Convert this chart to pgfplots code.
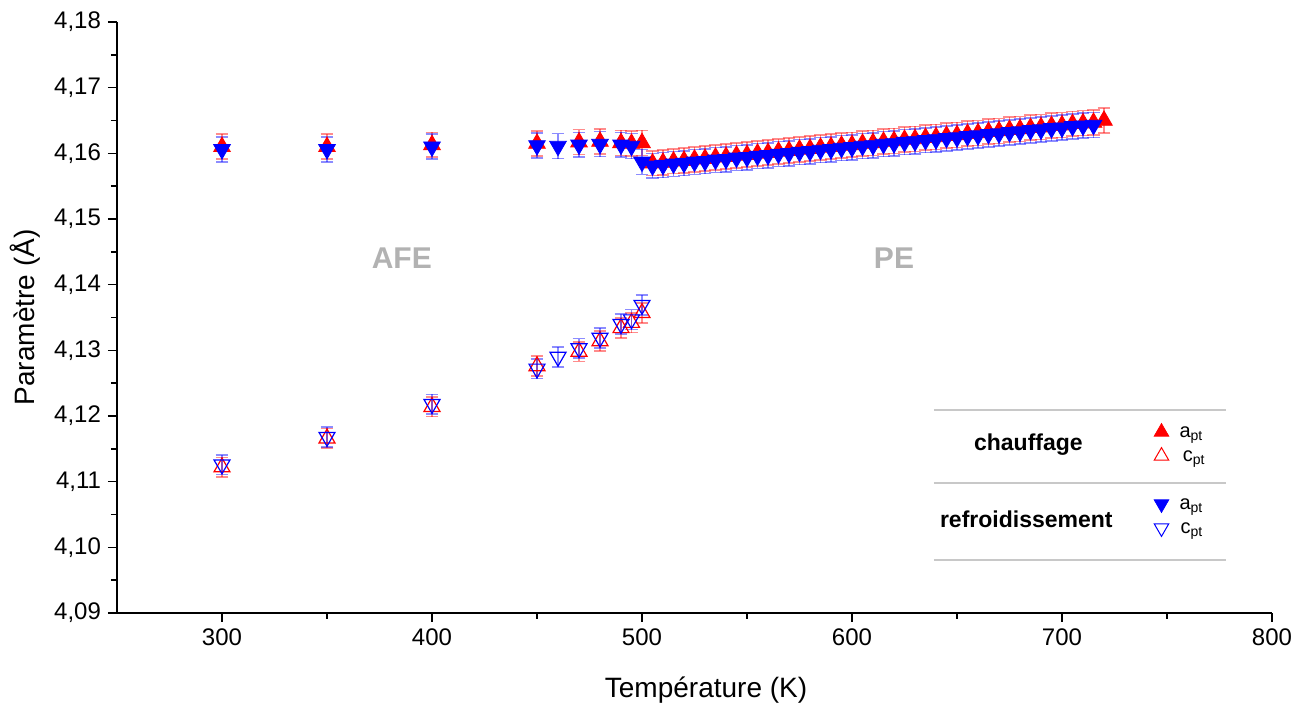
\documentclass[border=0pt]{standalone}
\usepackage{pgfplots}
\pgfplotsset{compat=1.18}
\usepackage{fontspec}
\setmainfont{Liberation Sans}
\definecolor{lblgray}{RGB}{178,178,178}
\definecolor{sepgray}{RGB}{200,200,200}
\begin{document}
\begin{tikzpicture}
\path[use as bounding box] (-58.5pt,-45.5pt) rectangle (596.5pt,306.5pt);
\begin{axis}[
  scale only axis,
  width=577.5pt, height=295.5pt,
  at={(0,0)}, anchor=south west,
  xmin=250, xmax=800,
  ymin=4.09, ymax=4.18,
  axis x line*=bottom, axis y line*=left,
  axis line style={line width=1pt},
  xtick={300,400,500,600,700,800},
  ytick={4.09,4.10,4.11,4.12,4.13,4.14,4.15,4.16,4.17,4.18},
  minor x tick num=1, minor y tick num=1,
  tick align=outside,
  major tick length=4.5pt, minor tick length=3pt,
  tick style={line width=0.8pt, black},
  /pgf/number format/assume math mode=true,
  yticklabel style={/pgf/number format/.cd, use comma, fixed, fixed zerofill, precision=2},
  xticklabel style={/pgf/number format/.cd, 1000 sep={}},
  tick label style={font=\fontsize{12}{14}\selectfont},
  xlabel={Température (K)},
  ylabel={Paramètre (Å)},
  xlabel style={at={(axis description cs:0.51,-0.13)}, anchor=center, font=\fontsize{14}{16}\selectfont},
  ylabel style={at={(axis description cs:-0.0797,0.5)}, anchor=center, font=\fontsize{14}{16}\selectfont},
  clip=false,
  legend style={at={(axis description cs:0.884,0.334)}, anchor=north west, draw=none, fill=none,
    font=\fontsize{10}{12}\selectfont, row sep=0pt,
    nodes={inner sep=0.5pt, text height=8pt, text depth=3pt}},
  legend cell align=left,
  legend image code/.code={\path[draw=none, fill=none] (0cm,0cm) -- (0.6cm,0cm); \draw[#1] plot coordinates {(0.3cm,0cm)};},
]
% c heating (red open up)
\addplot+[forget plot, only marks, mark=triangle, mark size=4.6pt, red, mark options={line width=0.6pt, fill=none},
  error bars/.cd, y dir=both, y explicit,
  error bar style={red, opacity=0.45, line width=0.8pt},
  error mark options={rotate=90, mark size=3.2pt, red, opacity=0.45, line width=0.8pt}]
coordinates {
(300,4.1122) +- (0,0.0015)
(350,4.1166) +- (0,0.0015)
(400,4.1214) +- (0,0.0015)
(450,4.1276) +- (0,0.0015)
(470,4.1298) +- (0,0.0015)
(480,4.1314) +- (0,0.0015)
(490,4.1334) +- (0,0.0015)
(495,4.1342) +- (0,0.0015)
(500,4.1357) +- (0,0.0015)
};
% c cooling (blue open down)
\addplot+[forget plot, only marks, mark=triangle, mark size=4.6pt, blue, mark options={rotate=180, line width=0.6pt, fill=none},
  error bars/.cd, y dir=both, y explicit,
  error bar style={blue, opacity=0.45, line width=0.8pt},
  error mark options={rotate=90, mark size=3.2pt, blue, opacity=0.45, line width=0.8pt}]
coordinates {
(300,4.1126) +- (0,0.0015)
(350,4.1168) +- (0,0.0015)
(400,4.1218) +- (0,0.0015)
(450,4.1272) +- (0,0.0015)
(460,4.1290) +- (0,0.0015)
(470,4.1303) +- (0,0.0015)
(480,4.1319) +- (0,0.0015)
(490,4.1340) +- (0,0.0015)
(495,4.1347) +- (0,0.0015)
(500,4.1369) +- (0,0.0015)
};
% a heating (red filled up)
\addplot+[forget plot, only marks, mark=triangle*, mark size=4.8pt, red, mark options={fill=red, draw=red},
  error bars/.cd, y dir=both, y explicit,
  error bar style={red, opacity=0.45, line width=0.8pt},
  error mark options={rotate=90, mark size=3.2pt, red, opacity=0.45, line width=0.8pt}]
coordinates {
(300,4.1610) +- (0,0.0019)
(350,4.1610) +- (0,0.0019)
(400,4.1613) +- (0,0.0019)
(450,4.1615) +- (0,0.0019)
(470,4.1617) +- (0,0.0019)
(480,4.1618) +- (0,0.0019)
(490,4.1616) +- (0,0.0019)
(495,4.1615) +- (0,0.0019)
(500,4.1616) +- (0,0.0019)
(505,4.1585) +- (0,0.0019)
(510,4.1586) +- (0,0.0019)
(515,4.1588) +- (0,0.0019)
(520,4.1589) +- (0,0.0019)
(525,4.1591) +- (0,0.0019)
(530,4.1592) +- (0,0.0019)
(535,4.1594) +- (0,0.0019)
(540,4.1595) +- (0,0.0019)
(545,4.1597) +- (0,0.0019)
(550,4.1598) +- (0,0.0019)
(555,4.1600) +- (0,0.0019)
(560,4.1601) +- (0,0.0019)
(565,4.1603) +- (0,0.0019)
(570,4.1604) +- (0,0.0019)
(575,4.1606) +- (0,0.0019)
(580,4.1607) +- (0,0.0019)
(585,4.1609) +- (0,0.0019)
(590,4.1610) +- (0,0.0019)
(595,4.1612) +- (0,0.0019)
(600,4.1613) +- (0,0.0019)
(605,4.1615) +- (0,0.0019)
(610,4.1616) +- (0,0.0019)
(615,4.1618) +- (0,0.0019)
(620,4.1619) +- (0,0.0019)
(625,4.1621) +- (0,0.0019)
(630,4.1622) +- (0,0.0019)
(635,4.1624) +- (0,0.0019)
(640,4.1625) +- (0,0.0019)
(645,4.1627) +- (0,0.0019)
(650,4.1628) +- (0,0.0019)
(655,4.1630) +- (0,0.0019)
(660,4.1631) +- (0,0.0019)
(665,4.1633) +- (0,0.0019)
(670,4.1634) +- (0,0.0019)
(675,4.1636) +- (0,0.0019)
(680,4.1637) +- (0,0.0019)
(685,4.1639) +- (0,0.0019)
(690,4.1640) +- (0,0.0019)
(695,4.1642) +- (0,0.0019)
(700,4.1643) +- (0,0.0019)
(705,4.1645) +- (0,0.0019)
(710,4.1646) +- (0,0.0019)
(715,4.1647) +- (0,0.0019)
(720,4.1650) +- (0,0.0019)
};
% a cooling (blue filled down)
\addplot+[forget plot, only marks, mark=triangle*, mark size=4.8pt, blue, mark options={rotate=180, fill=blue, draw=blue},
  error bars/.cd, y dir=both, y explicit,
  error bar style={blue, opacity=0.45, line width=0.8pt},
  error mark options={rotate=90, mark size=3.2pt, blue, opacity=0.45, line width=0.8pt}]
coordinates {
(300,4.1606) +- (0,0.0019)
(350,4.1606) +- (0,0.0019)
(400,4.1610) +- (0,0.0019)
(450,4.1612) +- (0,0.0019)
(460,4.1611) +- (0,0.0019)
(470,4.1613) +- (0,0.0019)
(480,4.1614) +- (0,0.0019)
(490,4.1613) +- (0,0.0019)
(495,4.1611) +- (0,0.0019)
(500,4.1587) +- (0,0.0019)
(505,4.1581) +- (0,0.0019)
(510,4.1582) +- (0,0.0019)
(515,4.1584) +- (0,0.0019)
(520,4.1585) +- (0,0.0019)
(525,4.1587) +- (0,0.0019)
(530,4.1588) +- (0,0.0019)
(535,4.1590) +- (0,0.0019)
(540,4.1591) +- (0,0.0019)
(545,4.1593) +- (0,0.0019)
(550,4.1594) +- (0,0.0019)
(555,4.1596) +- (0,0.0019)
(560,4.1597) +- (0,0.0019)
(565,4.1599) +- (0,0.0019)
(570,4.1600) +- (0,0.0019)
(575,4.1602) +- (0,0.0019)
(580,4.1603) +- (0,0.0019)
(585,4.1605) +- (0,0.0019)
(590,4.1606) +- (0,0.0019)
(595,4.1608) +- (0,0.0019)
(600,4.1609) +- (0,0.0019)
(605,4.1611) +- (0,0.0019)
(610,4.1612) +- (0,0.0019)
(615,4.1614) +- (0,0.0019)
(620,4.1615) +- (0,0.0019)
(625,4.1617) +- (0,0.0019)
(630,4.1618) +- (0,0.0019)
(635,4.1620) +- (0,0.0019)
(640,4.1621) +- (0,0.0019)
(645,4.1623) +- (0,0.0019)
(650,4.1624) +- (0,0.0019)
(655,4.1626) +- (0,0.0019)
(660,4.1627) +- (0,0.0019)
(665,4.1629) +- (0,0.0019)
(670,4.1630) +- (0,0.0019)
(675,4.1632) +- (0,0.0019)
(680,4.1633) +- (0,0.0019)
(685,4.1635) +- (0,0.0019)
(690,4.1636) +- (0,0.0019)
(695,4.1638) +- (0,0.0019)
(700,4.1639) +- (0,0.0019)
(705,4.1641) +- (0,0.0019)
(710,4.1642) +- (0,0.0019)
(715,4.1643) +- (0,0.0019)
};
% legend
\addlegendimage{mark=triangle*, mark size=4.2pt, red, mark options={fill=red}}
\addlegendentry{a\textsubscript{pt}}
\addlegendimage{mark=triangle, mark size=4.2pt, red, mark options={line width=0.5pt}}
\addlegendentry{\,c\textsubscript{pt}}
\addlegendimage{empty legend}
\addlegendentry{}
\addlegendimage{mark=triangle*, mark size=4.2pt, blue, mark options={rotate=180, fill=blue}}
\addlegendentry{a\textsubscript{pt}}
\addlegendimage{mark=triangle, mark size=4.2pt, blue, mark options={rotate=180, line width=0.5pt}}
\addlegendentry{\kern0.5pt c\textsubscript{pt}}
% separators and group labels
\draw[sepgray, line width=1pt] (axis cs:639,4.1209) -- (axis cs:778,4.1209);
\draw[sepgray, line width=1pt] (axis cs:639,4.1098) -- (axis cs:778,4.1098);
\draw[sepgray, line width=1pt] (axis cs:639,4.0981) -- (axis cs:778,4.0981);
\node[font=\bfseries\fontsize{11.5}{13}\selectfont] at (axis cs:684,4.1156) {chauffage};
\node[font=\bfseries\fontsize{11.5}{13}\selectfont] at (axis cs:683,4.1042) {refroidissement};
\node[font=\bfseries\fontsize{15}{17}\selectfont, text=lblgray] at (axis cs:385.6,4.1441) {AFE};
\node[font=\bfseries\fontsize{15}{17}\selectfont, text=lblgray] at (axis cs:620,4.1441) {PE};
\end{axis}
\end{tikzpicture}
\end{document}
